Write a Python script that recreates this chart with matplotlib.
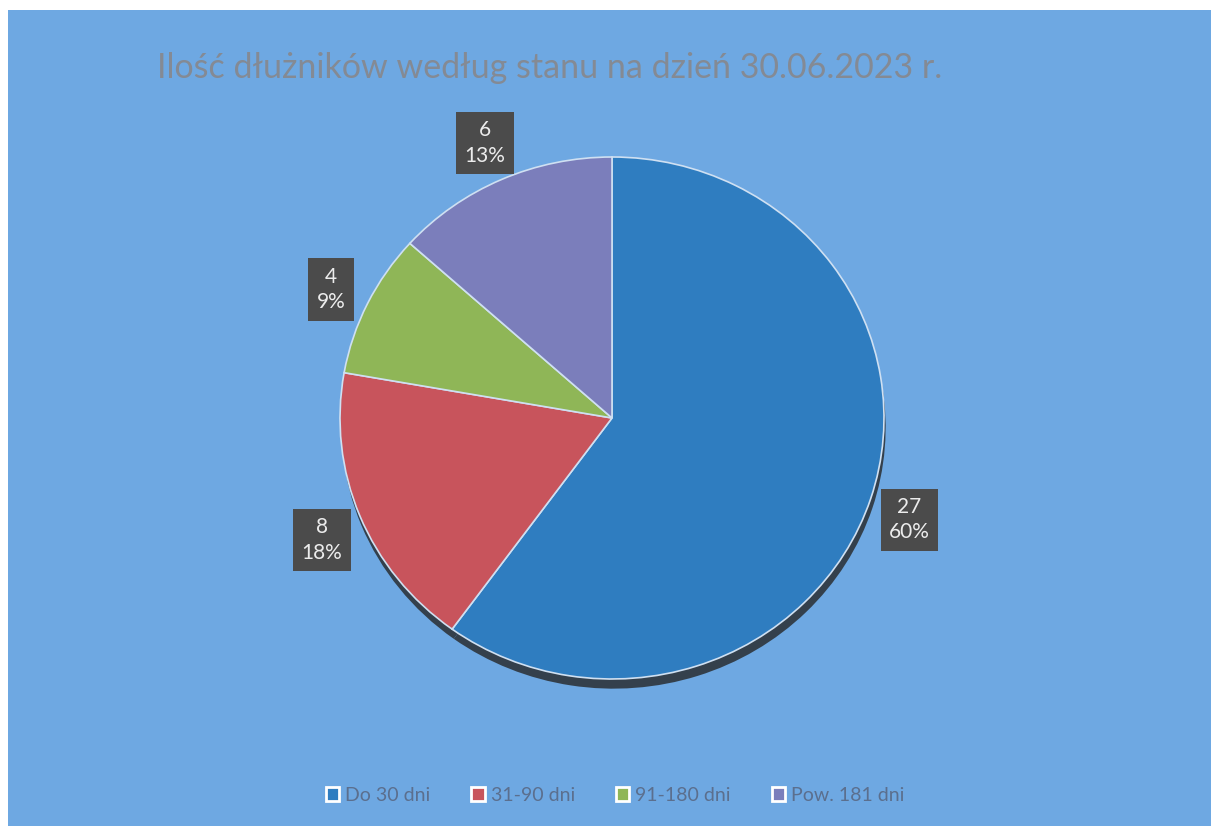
import numpy as np
import matplotlib.pyplot as plt
from matplotlib.patches import Rectangle

# debtor counts by overdue period
categories = ['Do 30 dni', '31-90 dni', '91-180 dni', 'Pow. 181 dni']
counts = [27, 8, 4, 6]
percents = [60, 18, 9, 13]
colors = ['#2f7dc0', '#c8545c', '#8fb657', '#7b7ebb']

title = 'Ilość dłużników według stanu na dzień 30.06.2023 r.'

plt.rcParams['font.family'] = ['Lato', 'DejaVu Sans']

W, H = 1216, 830
fig = plt.figure(figsize=(W / 100, H / 100), dpi=100)
fig.patch.set_facecolor('white')

# blue chart area with a white margin around it
fig.patches.append(Rectangle((8 / W, 4 / H), 1203 / W, 816 / H,
                             transform=fig.transFigure, facecolor='#6ea8e2',
                             edgecolor='none', zorder=-10))

fig.text(550 / W, 1 - 68 / H, title, ha='center', va='center',
         fontsize=24.5, color='#848a94')

# pie is slightly squashed vertically (tilted look)
cx, cy, rx, ry = 612, 830 - 418, 272, 261
ax = fig.add_axes([(cx - rx) / W, (cy - ry) / H, 2 * rx / W, 2 * ry / H])
ax.axis('off')

# dark shadow under the pie
ax.pie(counts, startangle=90, counterclock=False, center=(0.006, -0.037),
       colors=['#34404c'] * len(counts), radius=1.0,
       wedgeprops=dict(linewidth=0))

wedges, _ = ax.pie(counts, startangle=90, counterclock=False,
                   colors=colors, radius=1.0,
                   wedgeprops=dict(linewidth=1.2, edgecolor='#cfe0f2'))
ax.set_aspect('auto')

for w, n, p in zip(wedges, counts, percents):
    mid = np.deg2rad((w.theta1 + w.theta2) / 2)
    x, y = 1.15 * np.cos(mid), 1.18 * np.sin(mid) - 0.025
    ax.text(x, y, f'{n}\n{p}%', ha='center', va='center', fontsize=15,
            color='#ececec', linespacing=1.35,
            bbox=dict(boxstyle='square,pad=0.4', facecolor='#4b4b4b',
                      edgecolor='none'))

ax.set_xlim(-1, 1)
ax.set_ylim(-1, 1)

handles = [Rectangle((0, 0), 1, 1, facecolor=c, edgecolor='white', linewidth=2)
           for c in colors]
fig.legend(handles, categories, loc='center', bbox_to_anchor=(615 / W, 1 - 795 / H),
           ncol=4, frameon=False, fontsize=14, labelcolor='#5b6f8e',
           handlelength=0.7, handleheight=0.7, handletextpad=0.3,
           columnspacing=2.1)

fig.savefig('out.png', dpi=100)
